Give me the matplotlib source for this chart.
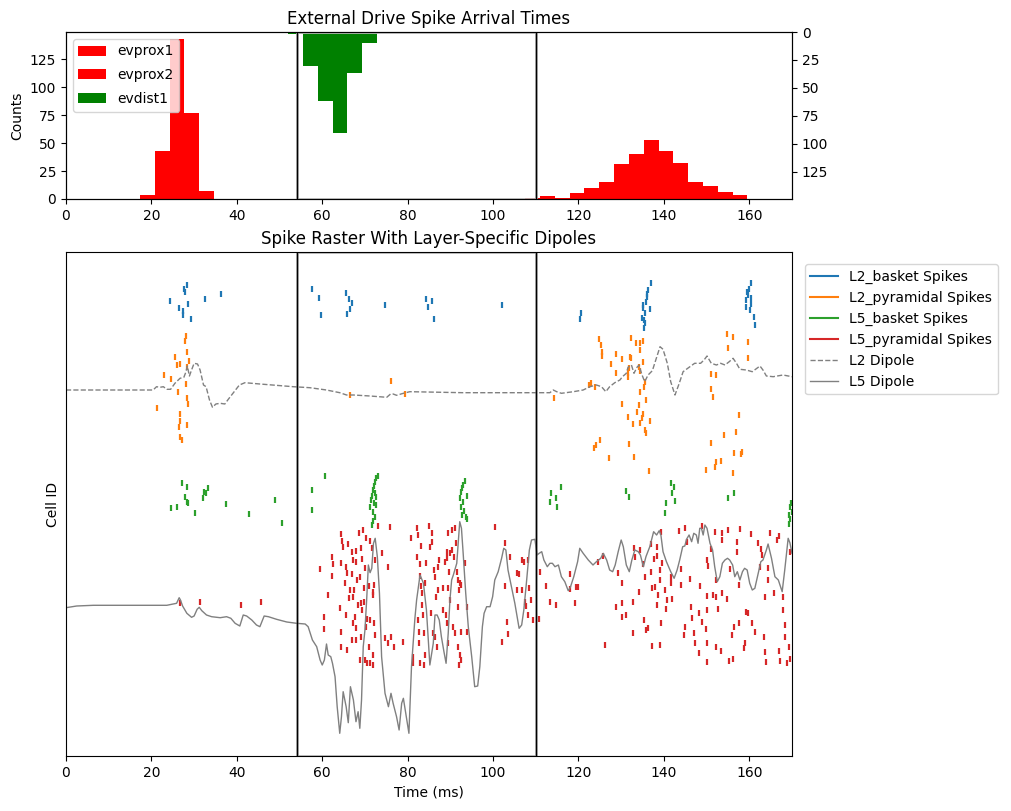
import numpy as np
import matplotlib
matplotlib.use("Agg")
import matplotlib.pyplot as plt
from matplotlib.patches import Rectangle
import matplotlib.transforms as mtransforms

# ---------------- data ----------------
bin_start = 17.3
bin_width = 3.47
evprox1_first_bin = 0
evprox1_counts = [4, 43, 143, 77, 7]
evprox2_first_bin = 26
evprox2_counts = [1, 3, 1, 5, 10, 15, 31, 40, 53, 43, 32, 15, 12, 6, 4]
evdist1_first_bin = 10
evdist1_counts = [2, 30, 62, 90, 37, 10]

window_start = 54.2
window_end = 110.0

# spikes: (time ms, cell id)
l2_basket = [(28.3,33),(27.6,37),(27.9,40),(24.4,49),(26.5,56),(27.3,59),(27.4,63),(28.5,52),(29.2,67),
    (32.5,47),(36.2,42),(57.5,37),(59.2,46),(59.7,63),(65.5,41),(66.2,47),(66.9,51),(66.5,57),(65.9,62),
    (74.8,53),(84.4,47),(84.7,55),(85.8,49),(86.1,67),(102.2,53),(120.6,61),(120.3,67),(137.1,31),(136.3,38),
    (136.1,45),(135.8,50),(135.2,56),(136.7,57),(135.5,61),(134.8,66),(135.5,71),(135.3,76),(135.0,53),
    (136.0,42),(135.4,68),(160.5,31),(160.0,37),(159.7,43),(159.3,48),(160.5,46),(160.1,58),(161.1,65),
    (161.3,73),(159.5,40),(160.3,52),(159.2,55)]
l2_pyramidal = [(28.1,84),(27.9,89),(28.3,100),(25.5,105),(28.8,109),(25.9,113),(26.8,112),(28.3,115),
    (22.9,123),(24.7,127),(28.1,132),(26.2,140),(28.3,146),(28.5,152),(21.2,156),(26.8,162),(26.6,169),
    (28.3,173),(26.4,175),(26.8,185),(27.2,188),(76.0,129),(66.6,143),(79.3,142),(114.2,146),(122.5,133),
    (123.0,131),(123.8,135),(124.8,87),(125.2,93),(125.6,100),(125.6,104),(128.9,102),(127.7,112),(128.7,121),
    (130.2,107),(132.2,86),(133.4,91),(134.4,91),(135.0,89),(134.4,98),(132.0,105),(132.4,106),(131.9,116),
    (131.7,121),(131.5,125),(134.1,115),(134.5,119),(135.2,110),(135.5,130),(135.4,135),(134.4,140),(135.8,148),
    (130.3,152),(134.1,153),(133.6,160),(135.0,162),(134.8,166),(134.5,171),(132.7,172),(131.7,165),(136.7,169),
    (135.5,178),(135.8,181),(125.0,188),(124.2,193),(123.6,196),(127.1,206),(131.8,192),(133.1,205),(136.5,219),
    (154.7,82),(156.3,85),(154.9,96),(159.8,90),(159.8,106),(151.0,122),(152.3,123),(151.1,137),(151.4,145),
    (157.5,163),(157.0,180),(154.0,183),(151.1,191),(156.5,201),(158.4,200),(158.0,202),(153.3,209),(152.3,210),
    (151.9,215),(149.8,218),(156.1,221)]
l5_basket = [(27.1,231),(28.3,235),(27.9,245),(28.3,250),(28.5,251),(24.7,256),(26.1,255),(30.1,261),
    (32.2,240),(32.7,241),(33.2,236),(32.0,246),(37.4,252),(42.8,262),(48.9,248),(50.5,271),(60.6,224),
    (57.7,238),(57.7,258),(73.0,224),(72.6,226),(72.3,230),(72.1,234),(71.8,238),(72.4,241),(71.6,244),
    (72.6,245),(71.4,248),(72.2,251),(72.7,253),(71.2,255),(72.0,260),(72.3,265),(71.8,269),(71.6,273),
    (93.4,229),(93.0,233),(92.8,236),(92.4,240),(93.8,244),(92.2,246),(92.9,250),(92.5,255),(93.2,259),
    (92.8,263),(93.6,265),(94.0,267),(115.8,235),(113.5,241),(113.3,250),(114.7,246),(114.9,255),(131.2,239),
    (131.8,245),(141.6,231),(142.3,235),(141.9,241),(142.6,249),(140.5,251),(140.2,261),(156.4,241),(154.9,246),
    (169.7,251),(169.5,255),(169.9,260),(169.3,263),(169.6,267),(169.4,272)]
l5_pyramidal = [(26.8,351),(31.4,350),(41.0,353),(45.6,350),(59.5,317),(60.5,365),(60.4,377),(61.3,343),
    (62.2,305),(62.6,312),(62.4,324),(64.4,282),(64.6,289),(64.9,295),(64.5,311),(64.1,356),(64.5,380),(64.4,395),
    (65.5,315),(65.3,331),(65.6,363),(65.7,398),(66.1,292),(65.9,321),(66.2,346),(66.5,338),(67.0,300),(67.1,308),
    (66.9,322),(67.3,345),(67.1,371),(66.9,388),(67.5,338),(67.7,365),(67.9,299),(67.9,388),(68.2,328),(68.0,310),
    (68.3,353),(68.0,376),(68.8,408),(68.7,281),(69.1,296),(69.2,307),(68.8,325),(69.0,351),(69.2,358),(69.0,385),
    (69.6,278),(70.2,286),(70.0,316),(69.8,336),(69.8,350),(70.4,367),(70.2,375),(70.0,408),(70.4,411),(71.2,289),
    (71.0,334),(70.9,395),(71.3,368),(71.2,411),(71.7,296),(71.8,343),(72.0,340),(72.1,371),(71.8,403),(71.8,413),
    (72.3,308),(72.2,333),(72.3,383),(73.1,274),(73.9,301),(75.4,315),(74.7,386),(75.5,391),(76.1,385),(75.8,275),
    (76.9,395),(78.8,390),(80.7,286),(81.2,405),(81.3,411),(82.1,276),(82.5,283),(82.3,305),(82.5,368),(82.6,380),
    (82.7,391),(82.9,411),(83.1,294),(83.0,312),(83.0,324),(83.1,334),(83.3,341),(83.4,353),(83.7,363),(84.0,331),
    (84.2,311),(83.9,381),(84.0,403),(83.8,413),(84.9,274),(85.2,295),(85.6,290),(85.8,281),(86.2,318),(86.4,325),
    (86.6,345),(85.5,361),(86.0,381),(86.4,385),(86.8,395),(87.4,308),(87.2,315),(87.1,338),
    (88.2,336),(88.3,358),(88.7,310),(89.1,300),(89.5,281),(89.3,306),(89.7,320),(89.5,336),(89.9,301),(90.0,348),
    (89.0,363),(89.1,371),(89.5,391),(90.3,278),(90.5,298),(90.8,305),(90.7,375),(91.1,381),(91.3,291),(91.2,276),
    (91.5,320),(91.7,328),(91.8,355),(92.0,338),(92.2,331),(92.6,333),(91.8,395),(92.2,403),(92.1,413),(92.5,408),
    (92.6,380),(93.4,311),(93.8,355),(94.0,380),(100.4,275),(102.8,291),(103.9,305),(102.9,334),(103.2,370),
    (103.6,382),(102.0,390),(105.7,321),(106.0,322),(106.7,308),(107.2,310),(108.1,308),(105.7,338),(106.8,338),
    (107.4,350),(107.8,354),(108.1,363),(109.0,348),(108.5,336),(109.4,368),(111.0,320),(110.7,367),(112.4,334),
    (113.3,350),(114.7,353),(118.1,322),(118.0,337),(119.4,335),(119.8,335),(119.3,351),(124.5,310),(125.8,304),
    (126.3,393),(128.9,355),(129.3,321),(130.3,331),(130.3,351),(130.1,365),(131.2,363),(132.7,350),(132.7,381),
    (133.0,296),(133.2,305),(134.1,340),(134.5,298),(135.2,312),(135.5,325),(135.3,368),(135.9,378),(136.3,376),
    (136.9,292),(137.1,320),(137.3,336),(137.6,307),(137.3,394),(137.9,335),(138.3,295),(138.5,304),(138.7,343),
    (138.3,353),(139.1,318),(139.1,328),(139.1,393),(139.3,280),(139.4,371),(139.6,311),(140.2,338),(140.4,357),
    (140.8,348),(141.6,325),(141.6,331),(142.0,347),(143.5,279),(143.9,317),(143.9,333),(144.9,276),(144.7,383),
    (144.9,375),(145.5,290),(146.2,327),(146.3,355),(146.7,366),(147.1,381),(147.2,391),(148.2,361),(148.3,401),
    (148.4,334),(149.0,274),(149.0,370),(149.8,377),(150.0,344),(150.0,358),(150.0,391),(150.0,410),(150.0,308),
    (150.4,314),(151.1,297),(151.4,343),(151.9,280),(152.3,328),(152.3,345),(152.3,395),(152.7,357),(153.3,399),
    (153.6,281),(153.7,288),(153.7,341),(154.7,347),(155.0,278),(155.2,409),(155.4,317),(155.9,383),(156.1,407),
    (156.4,375),(157.2,290),(157.2,300),(157.5,333),(157.6,371),(157.9,277),(158.7,396),(159.1,391),(159.3,360),
    (159.7,361),(160.5,282),(160.7,371),(161.3,380),(162.1,291),(162.7,297),(163.0,303),(162.6,315),(163.4,385),
    (163.6,345),(163.6,400),(164.0,410),(164.3,316),(164.4,328),(164.8,281),(165.7,341),(166.4,288),(166.9,284),
    (166.9,399),(167.1,409),(167.8,345),(167.9,358),(168.3,373),(168.3,385),(168.9,411),(169.3,395),(169.5,407),
    (169.5,300)]

# dipoles drawn in the raster's cell-id coordinates: (time ms, level)
l2_dipole = [(0.0,138),(20.4,138),(21.2,134.7),(22.0,135.3),(22.8,134.7),(23.6,137.3),(24.5,137.3),(25.5,131.3),
    (26.7,126.3),(27.6,125.3),(28.1,119.7),(28.4,114),(28.9,124),(29.4,118),(30.0,111.3),(30.8,112),(31.4,118),
    (32.2,133),(32.8,134.7),(33.6,148),(34.3,155.3),(35.1,152),(36.1,151.3),(37.2,152),(38.0,147.3),(39.2,140.7),
    (40.6,133),(41.9,130.7),(45.4,132),(53.2,134.7),(57.1,135.7),(61.0,138),(64.1,140.7),(65.7,143),(67.3,143),
    (71.2,144),(75.1,145.3),(76.0,142),(76.6,142),(77.4,143.3),(79.0,141.3),(80.5,139.7),(84.4,140),(93.0,140.7),
    (110.2,140.7),(113.3,140.7),(114.1,138),(114.9,139.7),(116.0,141.3),(118.8,139.7),(121.1,138),(122.7,134.7),
    (124.2,133),(125.4,134.7),(126.4,139.7),(127.3,134.7),(128.5,130.7),(129.7,128),(130.3,124.7),(131.2,121.3),
    (131.6,115.3),(132.4,113),(133.0,121.3),(133.7,115.3),(134.2,113),(134.8,122),(135.5,129.7),(136.3,123),
    (137.3,118.7),(138.1,108),(139.1,94.7),(139.8,97.3),(140.8,111.3),(141.6,129.7),(142.6,143),(143.6,131.3),
    (144.5,119.7),(145.9,115.3),(147.2,111.3),(148.6,111.3),(149.4,108),(150.1,104),(151.1,111.3),(152.3,113),
    (153.3,111.3),(154.3,113),(155.3,109.7),(156.2,106.3),(157.0,111.3),(157.8,117.3),(159.3,118),(160.7,119.7),
    (162.5,114),(163.2,118),(164.0,124),(165.6,124.7),(167.9,123),(170.0,124.7)]
l5_dipole = [(0.0,355.7),(2.5,354),(6.4,353.3),(14.2,353.3),(23.6,353.3),(25.9,351.3),(26.5,345.7),(26.8,348),
    (27.3,354),(28.3,361.3),(29.4,365.3),(30.0,364),(30.7,357.3),(31.2,355.3),(31.8,358.7),(32.9,363),(34.1,364.7),
    (36.1,365.7),(37.6,364.7),(38.6,366.3),(39.6,371.3),(40.7,374),(41.5,363),(42.3,364),(43.5,368),(44.6,373),
    (45.4,374.7),(46.4,364),(47.4,364.7),(49.3,367.3),(51.7,370),(54.0,371.3),(56.0,372),(56.7,374.7),(57.7,388),
    (58.7,394.7),(59.5,408),(60.0,413),(60.5,408),(61.0,392),(61.4,403),(62.0,404.7),(62.4,411.3),(63.0,424.7),
    (63.5,454.7),(64.1,481.3),(64.5,464.7),(64.9,439.7),(65.6,454.7),(66.1,470.7),(66.6,434.7),(67.3,448),
    (67.9,469.7),(68.4,459.7),(68.8,476.3),(69.2,448),(69.6,394.7),(70.0,378),(70.4,348),(70.8,313),(71.2,320.7),
    (71.6,316.3),(72.0,291.3),(72.4,286.3),(72.9,304.7),(73.4,341.3),(73.9,404.7),(74.7,441.3),(75.5,454.7),
    (76.1,441.3),(76.6,451.3),(77.4,464.7),(78.0,478),(78.6,451.3),(79.0,446.3),(79.8,468),(80.3,481.3),
    (80.9,414.7),(81.7,366.3),(82.1,348),(82.9,323),(83.7,331.3),(84.4,358),(85.2,413),(86.0,391.3),(86.4,363),
    (86.9,363),(87.4,368),(87.9,384.7),(88.5,399.7),(89.0,411.3),(89.5,381.3),(89.9,348),(90.3,328),(90.7,323),
    (91.5,311.3),(92.2,269.7),(92.6,276.3),(93.0,301.3),(93.6,341.3),(94.2,374.7),(95.0,404.7),(95.7,434.7),
    (96.4,434),(96.9,414.7),(97.5,374.7),(97.9,361.3),(98.5,354.7),(99.3,354.7),(99.9,344.7),(100.4,328),
    (101.2,319.7),(102.0,306.3),(102.5,296.3),(103.0,298),(103.5,318),(104.3,334.7),(105.1,351.3),(105.7,366.3),
    (106.1,376.3),(106.7,373),(107.2,358),(107.8,331.3),(108.5,298),(109.0,288),(109.8,287.3),(110.3,303),
    (110.8,301.3),(111.4,299.7),(111.9,308),(112.7,314.7),(113.3,311.3),(113.9,311.3),(114.5,314.7),(115.3,313),
    (116.0,324.7),(116.8,329.7),(117.6,338.7),(118.1,335.3),(118.9,324.7),(119.8,309.7),(120.3,296.3),(121.1,301.3),
    (122.3,308),(123.4,313),(124.2,309.7),(125.2,306.3),(125.8,301.3),(126.6,308),(127.3,318),(128.0,319.7),
    (128.6,313),(129.3,299.7),(130.0,288),(130.5,294.7),(131.2,313),(131.9,319.7),(132.5,308),(133.2,298),
    (134.0,299.7),(134.5,303),(135.2,314.7),(135.8,304.7),(136.7,294.7),(137.6,279.7),(138.3,283),(138.9,278.7),
    (139.3,283),(139.8,299.7),(140.6,309.7),(141.6,319.7),(142.4,326.3),(143.1,318),(143.7,308),(144.4,294.7),
    (144.9,294),(145.3,287.3),(145.9,283),(146.5,289.7),(147.0,281.3),(147.6,283),(148.0,291.3),(148.4,276.3),
    (148.8,276.3),(149.2,283),(149.6,273),(150.1,276.3),(150.8,291.3),(151.4,298),(151.9,314.7),(152.5,329.7),
    (153.1,324.7),(153.7,311.3),(154.3,308),(154.9,306.3),(155.4,308),(156.1,313),(156.6,324.7),(157.2,319.7),
    (157.8,328),(158.4,319.7),(158.9,316.3),(159.5,318),(160.1,331.3),(160.7,338),(161.3,336.3),(162.1,321.3),
    (162.7,309.7),(163.2,308),(164.0,298),(164.4,292),(165.2,306.3),(166.0,324.7),(166.8,328),(167.7,339.7),
    (168.3,318),(169.1,286.3),(169.5,290.7),(170.0,301.3)]

# ---------------- figure ----------------
fig = plt.figure(figsize=(10.11, 8.11), dpi=100)
W, H = 1011, 811
ax_top = fig.add_axes([66 / W, (H - 199) / H, (792 - 66) / W, (199 - 32) / H])
ax_bot = fig.add_axes([66 / W, (H - 756) / H, (792 - 66) / W, (756 - 252) / H])

hist_ymax = 149.5

def edges(first, n):
    return bin_start + bin_width * (first + np.arange(n))

b1 = ax_top.bar(edges(evprox1_first_bin, len(evprox1_counts)), evprox1_counts, width=bin_width,
                align='edge', color='red', label='evprox1')
b2 = ax_top.bar(edges(evprox2_first_bin, len(evprox2_counts)), evprox2_counts, width=bin_width,
                align='edge', color='red', label='evprox2')
ax_top.set_ylim(0, hist_ymax)
ax_top.set_xlim(0, 170)
ax_top.set_ylabel('Counts')
ax_top.set_title('External Drive Spike Arrival Times')
ax_top.set_xticks(np.arange(0, 161, 20))
ax_top.set_yticks(np.arange(0, 126, 25))

ax_tw = ax_top.twinx()
b3 = ax_tw.bar(edges(evdist1_first_bin, len(evdist1_counts)), evdist1_counts, width=bin_width,
               align='edge', color='green', label='evdist1')
ax_tw.set_ylim(hist_ymax, 0)
ax_tw.set_yticks(np.arange(0, 126, 25))
ax_tw.set_xlim(0, 170)
ax_tw.legend(handles=[b1, b2, b3], loc='upper left', labelspacing=0.7)

for ax in (ax_tw, ax_bot):
    trans = mtransforms.blended_transform_factory(ax.transData, ax.transAxes)
    ax.add_patch(Rectangle((window_start, 0), window_end - window_start, 1, transform=trans,
                           fill=False, edgecolor='#bbbbbb', lw=2, zorder=1.5))
    ax.axvline(window_start, color='k', lw=1, zorder=3)
    ax.axvline(window_end, color='k', lw=1, zorder=3)

# raster
tick_half = 3.3
groups = [(l2_basket, 'C0', 'L2_basket Spikes'), (l2_pyramidal, 'C1', 'L2_pyramidal Spikes'),
          (l5_basket, 'C2', 'L5_basket Spikes'), (l5_pyramidal, 'C3', 'L5_pyramidal Spikes')]
handles = []
for data, col, lab in groups:
    arr = np.array(data)
    ax_bot.vlines(arr[:, 0], arr[:, 1] - tick_half, arr[:, 1] + tick_half, colors=col, lw=1.6, zorder=2)
    handles.append(plt.Line2D([], [], color=col, lw=1.5, label=lab))

d2 = np.array(l2_dipole)
d5 = np.array(l5_dipole)
h2, = ax_bot.plot(d2[:, 0], d2[:, 1], color='gray', ls='--', lw=1.0, label='L2 Dipole', zorder=2.5)
h5, = ax_bot.plot(d5[:, 0], d5[:, 1], color='gray', ls='-', lw=1.0, label='L5 Dipole', zorder=2.5)
handles += [h2, h5]

ax_bot.set_xlim(0, 170)
ax_bot.set_ylim(504, 0)
ax_bot.set_yticks([])
ax_bot.set_xticks(np.arange(0, 161, 20))
ax_bot.set_ylabel('Cell ID')
ax_bot.set_xlabel('Time (ms)')
ax_bot.set_title('Spike Raster With Layer-Specific Dipoles')
ax_bot.legend(handles=handles, loc='upper left', bbox_to_anchor=(1.008, 0.99))

fig.savefig('out.png', dpi=100)
